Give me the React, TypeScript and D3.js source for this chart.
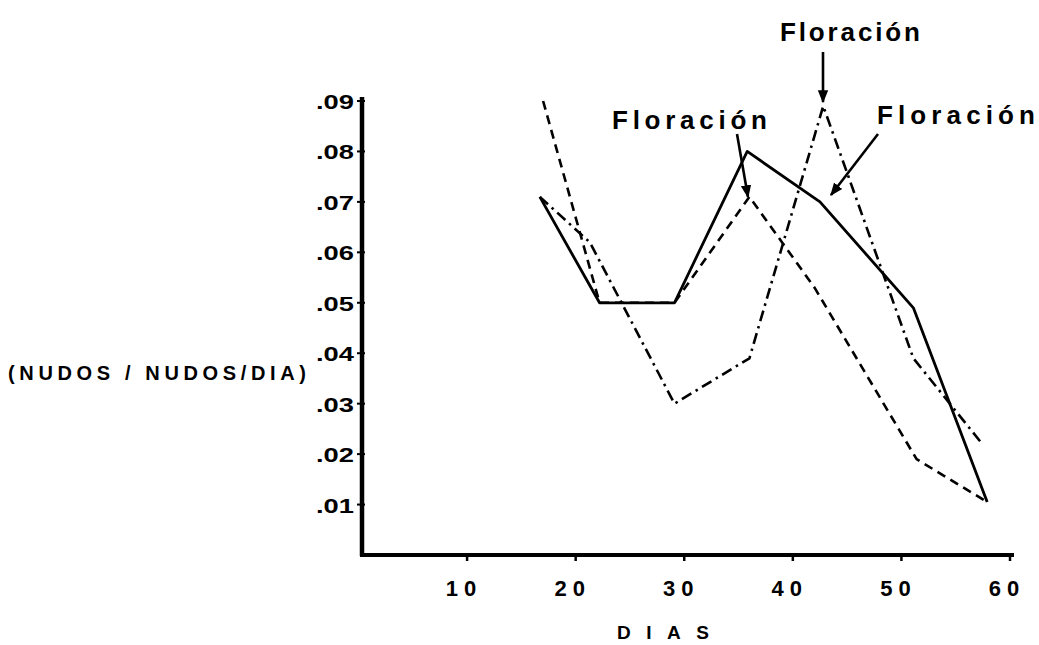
import { useEffect, useRef } from "react";
import * as d3 from "d3";

// days for each curve
const solidDays = [16.7, 22.2, 29.1, 35.8, 42.5, 51.1, 57.9];
const solidValues = [0.071, 0.05, 0.05, 0.08, 0.07, 0.049, 0.0105];

const dashedDays = [17.0, 22.2, 29.1, 36.0, 42.0, 51.4, 57.9];
const dashedValues = [0.09, 0.05, 0.05, 0.071, 0.053, 0.019, 0.0105];

const dashDotDays = [16.7, 21.3, 29.1, 36.0, 42.8, 51.1, 57.3];
const dashDotValues = [0.071, 0.062, 0.03, 0.039, 0.089, 0.039, 0.0224];

const xTicks = [10, 20, 30, 40, 50, 60];
const yTicks = [0.01, 0.02, 0.03, 0.04, 0.05, 0.06, 0.07, 0.08, 0.09];
const yTickLabels = [".01", ".02", ".03", ".04", ".05", ".06", ".07", ".08", ".09"];

const W = 1039;
const H = 645;
const FONT = "'Liberation Sans', Arial, sans-serif";

function App() {
  const svgRef = useRef<SVGSVGElement | null>(null);

  useEffect(() => {
    if (!svgRef.current) return;
    const svg = d3.select(svgRef.current);
    svg.selectAll("*").remove();

    const x = d3.scaleLinear().domain([0, 60]).range([358.5, 1010]);
    const y = d3.scaleLinear().domain([0, 0.09]).range([555, 101]);

    const defs = svg.append("defs");
    defs
      .append("marker")
      .attr("id", "arrow")
      .attr("viewBox", "0 0 10 10")
      .attr("refX", 9)
      .attr("refY", 5)
      .attr("markerWidth", 5)
      .attr("markerHeight", 5)
      .attr("markerUnits", "strokeWidth")
      .attr("orient", "auto")
      .append("path")
      .attr("d", "M0,1 L10,5 L0,9 Z")
      .attr("fill", "#000");

    // axes
    const axisX = x(0) + 3.5;
    svg
      .append("line")
      .attr("x1", axisX)
      .attr("x2", axisX)
      .attr("y1", y(0.09) - 4)
      .attr("y2", y(0) + 1)
      .attr("stroke", "#000")
      .attr("stroke-width", 4.5);
    svg
      .append("line")
      .attr("x1", axisX - 2)
      .attr("x2", x(60) + 4)
      .attr("y1", y(0))
      .attr("y2", y(0))
      .attr("stroke", "#000")
      .attr("stroke-width", 4);

    // y ticks + labels
    const yg = svg.append("g");
    yg.selectAll("line")
      .data(yTicks)
      .enter()
      .append("line")
      .attr("x1", axisX - 5)
      .attr("x2", axisX + 3)
      .attr("y1", (d) => y(d))
      .attr("y2", (d) => y(d))
      .attr("stroke", "#000")
      .attr("stroke-width", 2);
    yg.selectAll("text")
      .data(yTicks)
      .enter()
      .append("text")
      .attr("x", 316)
      .attr("y", (d) => y(d) + 8)
      .attr("font-family", FONT)
      .attr("font-weight", "bold")
      .attr("font-size", 21)
      .attr("textLength", 38)
      .attr("lengthAdjust", "spacingAndGlyphs")
      .text((_, i) => yTickLabels[i]);

    // x ticks + labels
    const xg = svg.append("g");
    xg.selectAll("text")
      .data(xTicks)
      .enter()
      .append("text")
      .attr("x", (d) => x(d) - 3)
      .attr("y", 596)
      .attr("text-anchor", "middle")
      .attr("font-family", FONT)
      .attr("font-weight", "bold")
      .attr("font-size", 22)
      .attr("letter-spacing", 6)
      .text((d) => String(d));
    xg.selectAll("line")
      .data(xTicks)
      .enter()
      .append("line")
      .attr("x1", (d) => x(d))
      .attr("x2", (d) => x(d))
      .attr("y1", y(0))
      .attr("y2", y(0) + 6)
      .attr("stroke", "#000")
      .attr("stroke-width", 2.5);

    svg
      .append("text")
      .attr("x", 617)
      .attr("y", 639)
      .attr("font-family", FONT)
      .attr("font-weight", "bold")
      .attr("font-size", 19)
      .attr("textLength", 92)
      .attr("lengthAdjust", "spacing")
      .text("DIAS");

    svg
      .append("text")
      .attr("x", 8)
      .attr("y", 380)
      .attr("font-family", FONT)
      .attr("font-weight", "bold")
      .attr("font-size", 20)
      .attr("textLength", 298)
      .attr("lengthAdjust", "spacing")
      .text("(NUDOS / NUDOS/DIA)");

    // curves
    const line = d3
      .line<[number, number]>()
      .x((d) => x(d[0]))
      .y((d) => y(d[1]));

    const series = [
      { days: dashDotDays, values: dashDotValues, dash: "11,5,2.5,5", w: 2.6 },
      { days: dashedDays, values: dashedValues, dash: "9,6", w: 2.6 },
      { days: solidDays, values: solidValues, dash: null, w: 2.8 },
    ];
    series.forEach((s) => {
      const pts = s.days.map((d, i) => [d, s.values[i]] as [number, number]);
      svg
        .append("path")
        .attr("d", line(pts) as string)
        .attr("fill", "none")
        .attr("stroke", "#000")
        .attr("stroke-width", s.w)
        .attr("stroke-linejoin", "round")
        .attr("stroke-dasharray", s.dash);
    });

    // "Floración" annotations
    const notes = [
      { tx: 780, ty: 41, len: 140, from: [823, 52], to: [823, 102] },
      { tx: 612, ty: 129, len: 155, from: [737, 134], to: [748, 197] },
      { tx: 877, ty: 124, len: 158, from: [878, 134], to: [831, 195] },
    ];
    notes.forEach((n) => {
      svg
        .append("text")
        .attr("x", n.tx)
        .attr("y", n.ty)
        .attr("font-family", FONT)
        .attr("font-weight", "bold")
        .attr("font-size", 26)
        .attr("textLength", n.len)
        .attr("lengthAdjust", "spacing")
        .text("Floración");
      svg
        .append("line")
        .attr("x1", n.from[0])
        .attr("y1", n.from[1])
        .attr("x2", n.to[0])
        .attr("y2", n.to[1])
        .attr("stroke", "#000")
        .attr("stroke-width", 2.6)
        .attr("marker-end", "url(#arrow)");
    });
  }, []);

  return (
    <svg
      ref={svgRef}
      width={W}
      height={H}
      style={{ position: "absolute", left: 0, top: 0, background: "#fff" }}
    />
  );
}

export default App;
